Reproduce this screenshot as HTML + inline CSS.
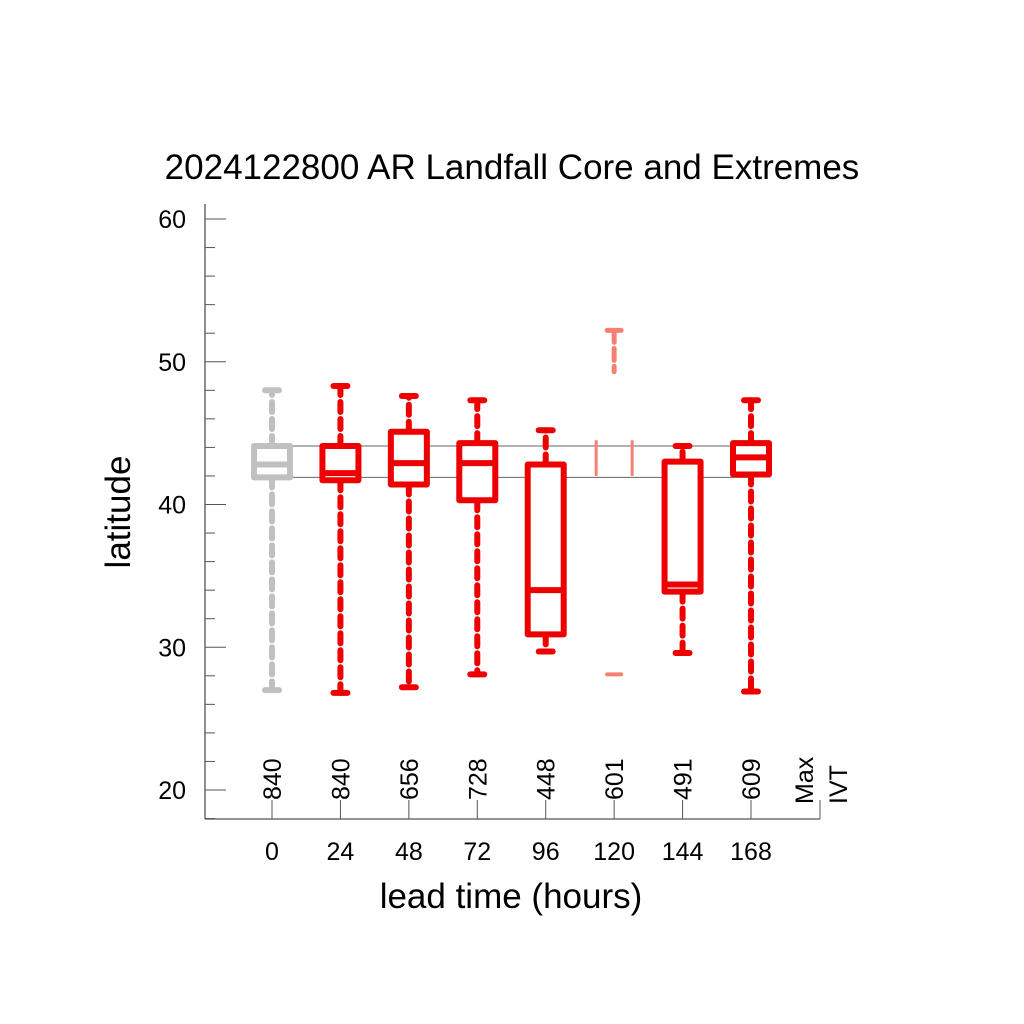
<!DOCTYPE html>
<html><head><meta charset="utf-8"><style>
html,body{margin:0;padding:0;background:#fff;}
svg{display:block;font-family:"Liberation Sans",sans-serif;}
</style></head><body>
<svg id="chart" width="1024" height="1024" viewBox="0 0 1024 1024">
<text x="512" y="179" font-size="35" text-anchor="middle">2024122800 AR Landfall Core and Extremes</text>
<text transform="translate(130,512) rotate(-90)" font-size="35" text-anchor="middle">latitude</text>
<text x="511" y="908" font-size="35" text-anchor="middle">lead time (hours)</text>
<g id="axes"></g>
<g id="marks"></g>
</svg>
<script>
const leads = [0, 24, 48, 72, 96, 120, 144, 168];
const counts = ["840", "840", "656", "728", "448", "601", "491", "609"];
const whiskLow = [27.0, 26.8, 27.2, 28.1, 29.7, 28.1, 29.6, 26.9];
const q1 = [41.9, 41.7, 41.4, 40.3, 30.9, 42.0, 33.9, 42.1];
const medians = [42.8, 42.2, 42.9, 42.9, 34.0, 43.2, 34.4, 43.3];
const q3 = [44.1, 44.1, 45.1, 44.3, 42.8, 44.5, 43.0, 44.3];
const whiskHigh = [48.0, 48.3, 47.6, 47.3, 45.2, 52.2, 44.1, 47.3];
const yTicks = [20, 30, 40, 50, 60];
const refLines = [44.1, 41.9];

const NS = "http://www.w3.org/2000/svg";
function X(v){ return 272 + (v - 0) * (751 - 272) / 168; }
function Y(v){ return 790 - (v - 20) * (790 - 219) / 40; }
function mk(tag, attrs, parent){
  const e = document.createElementNS(NS, tag);
  for (const k in attrs) e.setAttribute(k, attrs[k]);
  parent.appendChild(e);
  return e;
}
const axes = document.getElementById('axes');
const marks = document.getElementById('marks');
const ax = '#555';
let l = mk('line', {x1:205, y1:204, x2:205, y2:819, stroke:ax, 'stroke-width':1.3}, axes);


l = mk('line', {x1:205, y1:819, x2:820, y2:819, stroke:ax, 'stroke-width':1.3}, axes);


for (let v = 18; v <= 60; v += 2) {
  const major = v % 10 === 0;
  const t = mk('line', {x1:205, y1:Y(v), x2:major?226:215, y2:Y(v), stroke:ax, 'stroke-width':1}, axes);
  
  
}
yTicks.forEach(v => {
  const t = mk('text', {x:186, y:Y(v)+9, 'font-size':25, 'text-anchor':'end'}, axes);
  t.textContent = v;
  
  
});
refLines.forEach(v => {
  const r = mk('line', {x1:X(0), y1:Y(v), x2:X(168), y2:Y(v), stroke:'#666', 'stroke-width':1}, axes);
  
  
});
leads.forEach((ld, i) => {
  const x = X(ld);
  const t = mk('line', {x1:x, y1:800, x2:x, y2:819, stroke:ax, 'stroke-width':1}, axes);
  
  
  const lb = mk('text', {x:x, y:860, 'font-size':25, 'text-anchor':'middle'}, axes);
  lb.textContent = ld;
  
  
  const c = mk('text', {transform:`translate(${x+9},800) rotate(-90)`, 'font-size':25}, axes);
  c.textContent = counts[i];
  
  
});
l = mk('line', {x1:820, y1:800, x2:820, y2:819, stroke:ax, 'stroke-width':1}, axes);


let mx = mk('text', {transform:'translate(813,804) rotate(-90)', 'font-size':25}, axes);
mx.textContent = 'Max';


mx = mk('text', {transform:'translate(847,804) rotate(-90)', 'font-size':25}, axes);
mx.textContent = 'IVT';



leads.forEach((ld, i) => {
  const x = X(ld), hw = 18;
  const col = i === 0 ? '#c0c0c0' : (i === 5 ? '#f88070' : '#ee0000');
  const g = mk('g', {}, marks);
  
  
  if (i === 5) {
    mk('line', {x1:x, y1:Y(whiskHigh[i]), x2:x, y2:Y(49.3), stroke:col, 'stroke-width':5, 'stroke-dasharray':'12 6', 'stroke-linecap':'round'}, g);
    mk('line', {x1:x-7, y1:Y(whiskHigh[i]), x2:x+7, y2:Y(whiskHigh[i]), stroke:col, 'stroke-width':5, 'stroke-linecap':'round'}, g);
    mk('line', {x1:x-7, y1:Y(whiskLow[i]), x2:x+7, y2:Y(whiskLow[i]), stroke:col, 'stroke-width':4, 'stroke-linecap':'round'}, g);
    mk('line', {x1:x-hw, y1:Y(q3[i]), x2:x-hw, y2:Y(q1[i]), stroke:col, 'stroke-width':3}, g);
    mk('line', {x1:x+hw, y1:Y(q3[i]), x2:x+hw, y2:Y(q1[i]), stroke:col, 'stroke-width':3}, g);
    return;
  }
  const dash = {stroke:col, 'stroke-width':6, 'stroke-dasharray':'10 7', 'stroke-linecap':'round'};
  mk('line', Object.assign({x1:x, y1:Y(q3[i]), x2:x, y2:Y(whiskHigh[i])}, dash), g);
  mk('line', Object.assign({x1:x, y1:Y(q1[i]), x2:x, y2:Y(whiskLow[i])}, dash), g);
  mk('line', {x1:x-7, y1:Y(whiskHigh[i]), x2:x+7, y2:Y(whiskHigh[i]), stroke:col, 'stroke-width':6, 'stroke-linecap':'round'}, g);
  mk('line', {x1:x-7, y1:Y(whiskLow[i]), x2:x+7, y2:Y(whiskLow[i]), stroke:col, 'stroke-width':6, 'stroke-linecap':'round'}, g);
  mk('rect', {x:x-hw, y:Y(q3[i]), width:2*hw, height:Y(q1[i])-Y(q3[i]), fill:'#fff', stroke:col, 'stroke-width':6, 'stroke-linejoin':'round'}, g);
  mk('line', {x1:x-hw, y1:Y(medians[i]), x2:x+hw, y2:Y(medians[i]), stroke:col, 'stroke-width':6}, g);
});
</script>
</body></html>
